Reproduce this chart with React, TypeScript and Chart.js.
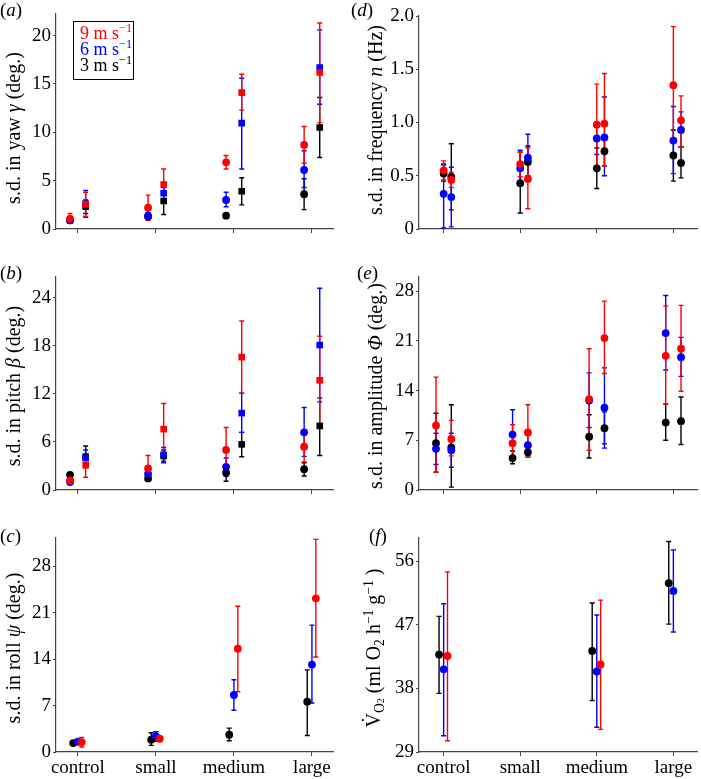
import React, { useEffect, useRef } from "react";
import { Chart, registerables } from "chart.js";
Chart.register(...registerables);

const FONT = "'Liberation Serif', 'Times New Roman', serif";
const AXIS = "#444444";
const RED = "#ff0000";
const BLUE = "#0000ff";
const BLACK = "#000000";

const categories = ["control", "small", "medium", "large"];

// each entry: [mean, lower, upper] per category; null = no value
// (a) yaw
const yawCircleRed = [[1.05, 0.6, 1.6], [2.2, 0.9, 3.5], [6.9, 6.2, 7.6], [8.7, 6.8, 10.6]];
const yawCircleBlue = [[0.9, 0.6, 1.3], [1.35, 1.0, 1.7], [3.0, 2.3, 3.8], [6.1, 4.3, 8.1]];
const yawCircleBlack = [[0.9, 0.7, 1.1], [1.3, 1.1, 1.5], [1.38, 1.2, 1.6], [3.6, 2.0, 5.2]];
const yawSquareRed = [[2.55, 1.3, 3.8], [4.6, 3.1, 6.2], [14.1, 12.3, 16.0], [16.2, 11.0, 21.3]];
const yawSquareBlue = [[2.6, 1.2, 4.0], [3.7, 3.0, 4.3], [10.95, 6.2, 15.6], [16.7, 12.9, 20.6]];
const yawSquareBlack = [[2.3, 1.6, 3.0], [2.9, 1.5, 4.4], [3.9, 2.5, 5.3], [10.5, 7.4, 13.6]];

// (b) pitch
const pitchCircleRed = [[1.2, 0.9, 1.5], [2.7, 1.3, 4.3], [5.0, 2.3, 7.8], [5.4, 3.5, 7.3]];
const pitchCircleBlue = [[1.0, 0.8, 1.3], [2.0, 1.3, 2.6], [2.9, 1.7, 4.0], [7.2, 4.2, 10.3]];
const pitchCircleBlack = [[1.9, 1.7, 2.1], [1.45, 1.2, 1.7], [2.15, 1.1, 3.1], [2.6, 1.75, 3.4]];
const pitchSquareRed = [[3.1, 1.6, 4.5], [7.6, 4.5, 10.8], [16.6, 12.1, 21.1], [13.7, 8.2, 19.2]];
const pitchSquareBlue = [[4.0, 2.9, 5.0], [4.4, 3.4, 5.3], [9.6, 7.2, 12.1], [18.1, 11.0, 25.2]];
const pitchSquareBlack = [[4.15, 2.8, 5.5], [4.25, 3.6, 5.0], [5.7, 4.15, 7.2], [8.0, 4.3, 11.5]];

// (c) roll
const rollRed = [[1.5, 0.75, 2.2], [2.0, 1.7, 2.3], [15.6, 9.1, 22.0], [23.2, 14.35, 32.1]];
const rollBlue = [[1.55, 1.3, 1.8], [2.4, 1.6, 3.05], [8.6, 6.3, 10.9], [13.2, 7.4, 19.15]];
const rollBlack = [[1.35, 1.1, 1.6], [1.85, 1.0, 2.9], [2.6, 1.7, 3.6], [7.6, 2.5, 12.4]];

// (d) frequency
const freqLeftRed = [[0.55, 0.46, 0.64], [0.61, 0.49, 0.72], [0.98, 0.57, 1.36], [1.35, 0.82, 1.9]];
const freqLeftBlue = [[0.33, 0.01, 0.6], [0.57, 0.42, 0.74], [0.85, 0.7, 1.0], [0.83, 0.52, 1.15]];
const freqLeftBlack = [[0.52, 0.45, 0.61], [0.43, 0.15, 0.72], [0.57, 0.38, 0.76], [0.69, 0.45, 0.93]];
const freqRightRed = [[0.46, 0.39, 0.53], [0.47, 0.19, 0.76], [0.99, 0.59, 1.46], [1.02, 0.77, 1.25]];
const freqRightBlue = [[0.30, 0.02, 0.58], [0.67, 0.45, 0.89], [0.86, 0.5, 1.24], [0.93, 0.77, 1.1]];
const freqRightBlack = [[0.49, 0.18, 0.8], [0.63, 0.5, 0.78], [0.73, 0.59, 0.87], [0.62, 0.48, 0.77]];

// (e) amplitude
const ampLeftRed = [[9.1, 2.5, 15.9], [6.6, 4.1, 9.2], [12.8, 5.6, 19.9], [18.9, 12.1, 25.9]];
const ampLeftBlue = [[5.8, 3.6, 8.0], [7.8, 4.4, 11.3], [12.6, 8.8, 16.5], [22.1, 16.9, 27.4]];
const ampLeftBlack = [[6.6, 2.5, 10.8], [4.5, 3.7, 5.5], [7.5, 4.5, 10.6], [9.5, 7.0, 12.1]];
const ampRightRed = [[7.2, 4.8, 9.8], [8.1, 4.6, 12.0], [21.4, 16.4, 26.6], [19.9, 13.9, 26.0]];
const ampRightBlue = [[5.6, 3.2, 8.0], [6.3, 4.8, 7.7], [11.6, 5.9, 17.2], [18.7, 16.0, 21.5]];
const ampRightBlack = [[6.0, 0.4, 12.0], [5.3, 4.6, 6.1], [8.7, 6.5, 11.0], [9.7, 6.4, 13.1]];

// (f) oxygen consumption
const vo2Red = [[42.6, 30.6, 54.5], null, [41.4, 32.2, 50.5], null];
const vo2Blue = [[40.7, 31.3, 50.0], null, [40.4, 32.5, 48.4], [51.8, 46.0, 57.6]];
const vo2Black = [[42.8, 37.3, 48.2], null, [43.3, 36.3, 50.1], [52.9, 47.1, 58.8]];

// tick values
const yawTicks = [0, 5, 10, 15, 20];
const pitchTicks = [0, 6, 12, 18, 24];
const rollTicks = [0, 7, 14, 21, 28];
const freqTicks = [0, 0.5, 1.0, 1.5, 2.0];
const ampTicks = [0, 7, 14, 21, 28];
const vo2Ticks = [29, 38, 47, 56];

function series(vals: any[], offset: number, color: string, style: string) {
  const pts: any[] = [];
  const errs: any[] = [];
  vals.forEach((t, i) => {
    if (t) {
      pts.push({ x: i + 1 + offset, y: t[0] });
      errs.push([t[1], t[2]]);
    }
  });
  return {
    data: pts,
    errs,
    errColor: color,
    pointStyle: style,
    backgroundColor: color,
    borderColor: color,
    borderWidth: 0,
    pointRadius: style === "rect" ? 4.7 : 3.9,
    pointHoverRadius: style === "rect" ? 4.7 : 3.9,
    showLine: false,
  };
}

const errPlugin = {
  id: "errbars",
  beforeDatasetsDraw(chart: any) {
    const ctx = chart.ctx;
    const xs = chart.scales.x;
    const ys = chart.scales.y;
    const dsets = chart.data.datasets;
    ctx.save();
    for (let i = dsets.length - 1; i >= 0; i--) {
      const ds = dsets[i];
      ds.data.forEach((p: any, j: number) => {
        const e = ds.errs[j];
        const x = xs.getPixelForValue(p.x);
        const y1 = ys.getPixelForValue(e[0]);
        const y2 = ys.getPixelForValue(e[1]);
        ctx.strokeStyle = ds.errColor;
        ctx.lineWidth = 1.4;
        ctx.beginPath();
        ctx.moveTo(x, y1);
        ctx.lineTo(x, y2);
        ctx.moveTo(x - 2.5, y1);
        ctx.lineTo(x + 2.5, y1);
        ctx.moveTo(x - 2.5, y2);
        ctx.lineTo(x + 2.5, y2);
        ctx.stroke();
      });
    }
    ctx.restore();
  },
};

type Spec = {
  key: string;
  L: number; T: number; W: number; H: number;
  cl: number; ct: number; cr: number; cb: number;
  xmin: number; xmax: number; ymin: number; ymax: number;
  yticks: number[]; fmt: (v: number) => string; showX: boolean;
  datasets: any[];
};

const LA = { xmin: 0.72, xmax: 4.27 };
const RA = { xmin: 0.678, xmax: 4.31 };

const specs: Spec[] = [
  {
    key: "a", L: 0, T: 0, W: 345, H: 245, cl: 56, ct: 13, cr: 333, cb: 229, ...LA, ymin: 0, ymax: 22.3,
    yticks: yawTicks, fmt: (v) => String(v), showX: false,
    datasets: [
      series(yawCircleRed, -0.1, RED, "circle"),
      series(yawSquareRed, 0.1, RED, "rect"),
      series(yawCircleBlue, -0.1, BLUE, "circle"),
      series(yawSquareBlue, 0.1, BLUE, "rect"),
      series(yawCircleBlack, -0.1, BLACK, "circle"),
      series(yawSquareBlack, 0.1, BLACK, "rect"),
    ],
  },
  {
    key: "b", L: 0, T: 245, W: 345, H: 260, cl: 56, ct: 277, cr: 333, cb: 490, ...LA, ymin: 0, ymax: 26.6,
    yticks: pitchTicks, fmt: (v) => String(v), showX: false,
    datasets: [
      series(pitchCircleRed, -0.1, RED, "circle"),
      series(pitchSquareRed, 0.1, RED, "rect"),
      series(pitchCircleBlue, -0.1, BLUE, "circle"),
      series(pitchSquareBlue, 0.1, BLUE, "rect"),
      series(pitchCircleBlack, -0.1, BLACK, "circle"),
      series(pitchSquareBlack, 0.1, BLACK, "rect"),
    ],
  },
  {
    key: "c", L: 0, T: 505, W: 345, H: 274, cl: 56, ct: 538, cr: 333, cb: 752, ...LA, ymin: 0, ymax: 32.3,
    yticks: rollTicks, fmt: (v) => String(v), showX: true,
    datasets: [
      series(rollRed, 0.05, RED, "circle"),
      series(rollBlue, 0, BLUE, "circle"),
      series(rollBlack, -0.06, BLACK, "circle"),
    ],
  },
  {
    key: "d", L: 350, T: 0, W: 351, H: 245, cl: 419, ct: 16, cr: 701, cb: 229, ...RA, ymin: 0, ymax: 2.0,
    yticks: freqTicks, fmt: (v) => (v === 0 ? "0" : v.toFixed(1)), showX: false,
    datasets: [
      series(freqLeftRed, 0, RED, "circle"),
      series(freqRightRed, 0.1, RED, "circle"),
      series(freqLeftBlue, 0, BLUE, "circle"),
      series(freqRightBlue, 0.1, BLUE, "circle"),
      series(freqLeftBlack, 0, BLACK, "circle"),
      series(freqRightBlack, 0.1, BLACK, "circle"),
    ],
  },
  {
    key: "e", L: 350, T: 245, W: 351, H: 260, cl: 419, ct: 277, cr: 701, cb: 490, ...RA, ymin: 0, ymax: 30,
    yticks: ampTicks, fmt: (v) => String(v), showX: false,
    datasets: [
      series(ampLeftRed, -0.1, RED, "circle"),
      series(ampRightRed, 0.1, RED, "circle"),
      series(ampLeftBlue, -0.1, BLUE, "circle"),
      series(ampRightBlue, 0.1, BLUE, "circle"),
      series(ampLeftBlack, -0.1, BLACK, "circle"),
      series(ampRightBlack, 0.1, BLACK, "circle"),
    ],
  },
  {
    key: "f", L: 350, T: 505, W: 351, H: 274, cl: 419, ct: 538, cr: 701, cb: 752, ...RA, ymin: 29, ymax: 59.3,
    yticks: vo2Ticks, fmt: (v) => String(v), showX: true,
    datasets: [
      series(vo2Red, 0.05, RED, "circle"),
      series(vo2Blue, 0, BLUE, "circle"),
      series(vo2Black, -0.06, BLACK, "circle"),
    ],
  },
];

function Panel({ s }: { s: Spec }) {
  const ref = useRef<HTMLCanvasElement | null>(null);
  useEffect(() => {
    if (!ref.current) return;
    const chart = new Chart(ref.current, {
      type: "scatter",
      data: { datasets: s.datasets },
      options: {
        animation: false,
        responsive: false,
        devicePixelRatio: 1,
        events: [],
        plugins: { legend: { display: false }, tooltip: { enabled: false } },
        layout: { padding: { top: s.ct - s.T, right: s.L + s.W - s.cr, left: 0, bottom: 0 } },
        scales: {
          x: {
            type: "linear",
            min: s.xmin,
            max: s.xmax,
            afterBuildTicks: (sc: any) => {
              sc.ticks = [1, 2, 3, 4].map((v) => ({ value: v }));
            },
            afterFit: (sc: any) => {
              sc.height = s.T + s.H - s.cb;
            },
            grid: { display: true, drawOnChartArea: false, drawTicks: true, tickLength: 4, color: AXIS, lineWidth: 1 },
            border: { display: true, color: AXIS, width: 1.2 },
            ticks: {
              display: s.showX,
              autoSkip: false,
              maxRotation: 0,
              padding: 1,
              color: "#000",
              font: { family: FONT, size: 19 },
              callback: (v: any) => categories[Math.round(Number(v)) - 1] ?? "",
            },
          },
          y: {
            type: "linear",
            min: s.ymin,
            max: s.ymax,
            afterBuildTicks: (sc: any) => {
              sc.ticks = s.yticks.map((v) => ({ value: v }));
            },
            afterFit: (sc: any) => {
              sc.width = s.cl - s.L;
            },
            grid: { display: true, drawOnChartArea: false, drawTicks: true, tickLength: 3, color: AXIS, lineWidth: 1 },
            border: { display: true, color: AXIS, width: 1.2 },
            ticks: {
              padding: 2,
              color: "#000",
              font: { family: FONT, size: 19 },
              callback: (v: any) => s.fmt(Number(v)),
            },
          },
        },
      } as any,
      plugins: [errPlugin],
    });
    return () => {
      chart.destroy();
    };
  }, []);
  return (
    <canvas
      ref={ref}
      width={s.W}
      height={s.H}
      style={{ position: "absolute", left: s.L, top: s.T, width: s.W, height: s.H }}
    />
  );
}

const supStyle: React.CSSProperties = { fontSize: "0.68em", verticalAlign: "0.55em", lineHeight: 0 };
const subStyle: React.CSSProperties = { fontSize: "0.68em", verticalAlign: "-0.3em", lineHeight: 0 };

function YTitle({ cx, cy, children }: { cx: number; cy: number; children: any }) {
  return (
    <div
      style={{
        position: "absolute",
        left: cx,
        top: cy,
        transform: "translate(-50%, -50%) rotate(-90deg)",
        whiteSpace: "nowrap",
        fontSize: 20,
        lineHeight: "20px",
        color: "#000",
      }}
    >
      {children}
    </div>
  );
}

function PLabel({ x, y, t }: { x: number; y: number; t: string }) {
  return (
    <div style={{ position: "absolute", left: x, top: y, fontSize: 19, lineHeight: "19px", color: "#000" }}>
      (<i>{t}</i>)
    </div>
  );
}

export default function App() {
  return (
    <div
      style={{
        position: "fixed",
        left: 0,
        top: 0,
        width: 701,
        height: 779,
        overflow: "hidden",
        background: "#fff",
        fontFamily: FONT,
      }}
    >
      {specs.map((s) => (
        <Panel key={s.key} s={s} />
      ))}
      <PLabel x={0} y={0} t="a" />
      <PLabel x={0} y={263} t="b" />
      <PLabel x={0} y={526} t="c" />
      <PLabel x={351} y={0} t="d" />
      <PLabel x={357} y={263} t="e" />
      <PLabel x={369} y={526} t="f" />

      <YTitle cx={13} cy={128}>s.d. in yaw <i>γ</i> (deg.)</YTitle>
      <YTitle cx={13} cy={386}>s.d. in pitch <i>β</i> (deg.)</YTitle>
      <YTitle cx={13} cy={648}>s.d. in roll <i>ψ</i> (deg.)</YTitle>
      <YTitle cx={375} cy={120}>s.d. in frequency <i>n</i> (Hz)</YTitle>
      <YTitle cx={375} cy={386}>s.d. in amplitude <i>Φ</i> (deg.)</YTitle>
      <YTitle cx={373} cy={648}>
        V{"\u0307"}
        <span style={subStyle}>
          O<span style={{ fontSize: "0.75em" }}>2</span>
        </span>{" "}
        (ml O<span style={subStyle}>2</span> h<span style={supStyle}>−1</span> g<span style={supStyle}>−1</span> )
      </YTitle>

      <div
        style={{
          position: "absolute",
          left: 73,
          top: 21,
          width: 61,
          height: 59,
          border: "1px solid #000",
          boxSizing: "border-box",
          paddingTop: 3,
          paddingLeft: 6,
          fontSize: 18,
          lineHeight: "16px",
          whiteSpace: "nowrap",
        }}
      >
        <div style={{ color: RED }}>
          9 m s<span style={supStyle}>−1</span>
        </div>
        <div style={{ color: BLUE }}>
          6 m s<span style={supStyle}>−1</span>
        </div>
        <div style={{ color: BLACK }}>
          3 m s<span style={supStyle}>−1</span>
        </div>
      </div>
    </div>
  );
}
